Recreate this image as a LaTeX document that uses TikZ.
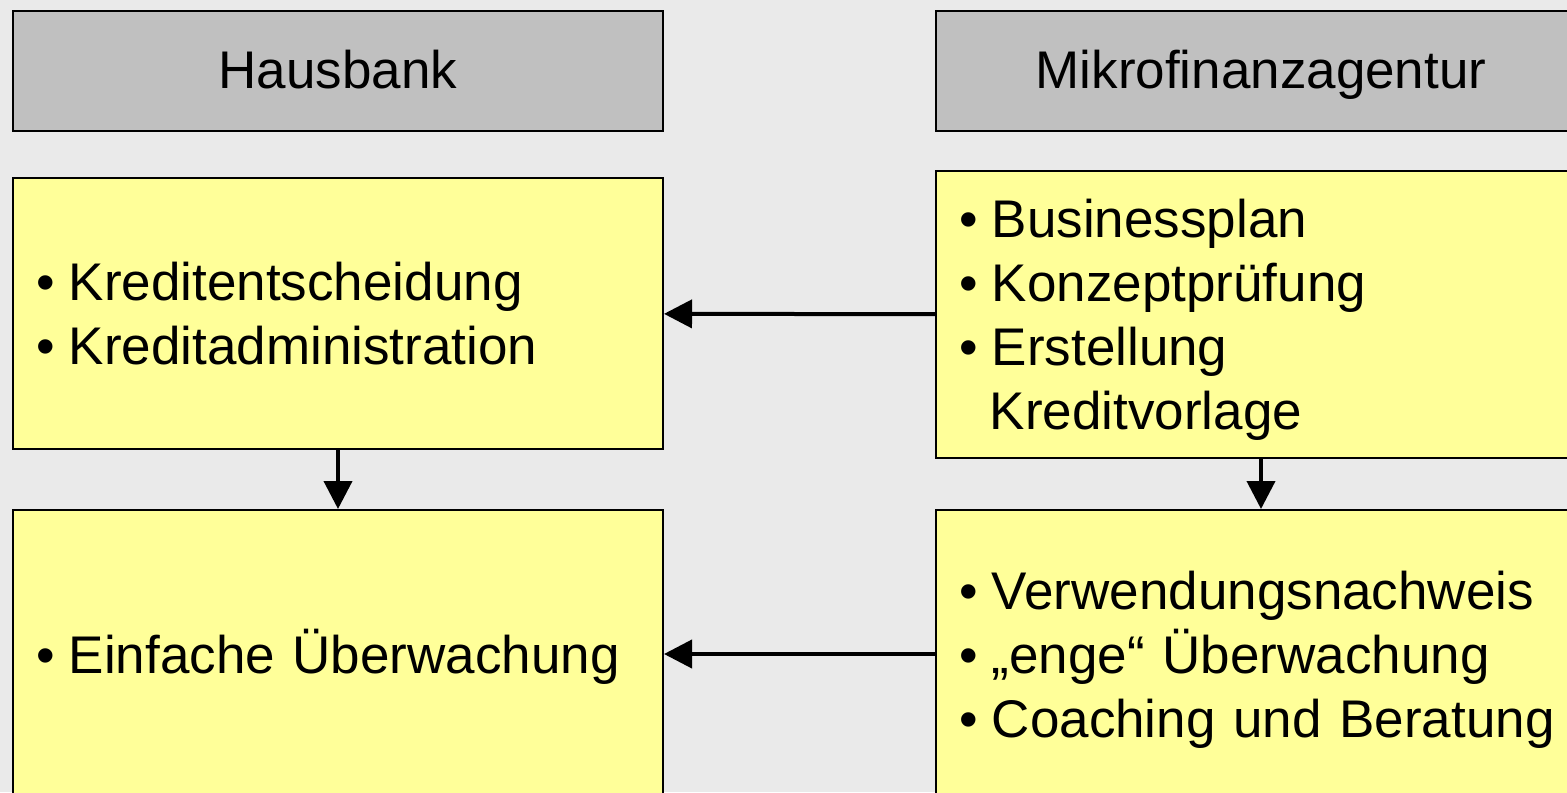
\documentclass[tikz,border=0pt]{standalone}
\usepackage{fontspec}
\setmainfont{Liberation Sans}
\usetikzlibrary{arrows.meta}
\definecolor{backgrey}{HTML}{EAEAEA}
\definecolor{headgrey}{HTML}{C0C0C0}
\definecolor{noteyellow}{HTML}{FFFF99}
\newcommand{\bul}{\makebox[0.62em][l]{•}}
\newcommand{\cont}{\hspace*{0.58em}}
\begin{document}
\begin{tikzpicture}[x=0.5pt,y=-0.5pt,
    every node/.style={font=\fontsize{26.5}{32}\selectfont},
    head/.style={draw,line width=1pt,fill=headgrey,minimum width=325pt,minimum height=60pt,text height=24pt,text depth=6pt,anchor=north west},
    note/.style={draw,line width=1pt,fill=noteyellow,anchor=north west,inner xsep=11.5pt,text width=302pt,align=left,
        execute at begin node={\rule{0pt}{25pt}},execute at end node={\rule[-6pt]{0pt}{0pt}}},
    flow/.style={line width=2pt,-{Triangle[length=14pt,width=14pt]}}]
    \useasboundingbox (0,0) rectangle (1567,792);
    \clip (0,0) rectangle (1567,792);
    \fill[backgrey] (0,0) rectangle (1567,792);
    %% headers
    \node[head] (haus) at (12,10) {Hausbank};
    \node[head] (mikro) at (935,10) {Mikrofinanzagentur};
    %% first step
    \node[note,minimum height=135.5pt] (kredit) at (12,177) {\bul Kreditentscheidung\\\bul Kreditadministration};
    \node[note,minimum height=143.5pt] (vorlage) at (935,170) {\bul Businessplan\\\bul Konzeptprüfung\\\bul Erstellung\\\cont Kreditvorlage};
    %% second step
    \node[note,minimum height=144pt] (einfach) at (12,509) {\bul Einfache Überwachung};
    \node[note,minimum height=144pt] (coaching) at (935,509) {\bul Verwendungsnachweis\\\bul „enge“ Überwachung\\\bul Coaching und Beratung};
    %% connectors
    \draw[flow] (vorlage) -- (kredit);
    \draw[flow] (coaching) -- (einfach);
    \draw[flow] (kredit) -- (einfach);
    \draw[flow] (vorlage) -- (coaching);
\end{tikzpicture}
\end{document}
